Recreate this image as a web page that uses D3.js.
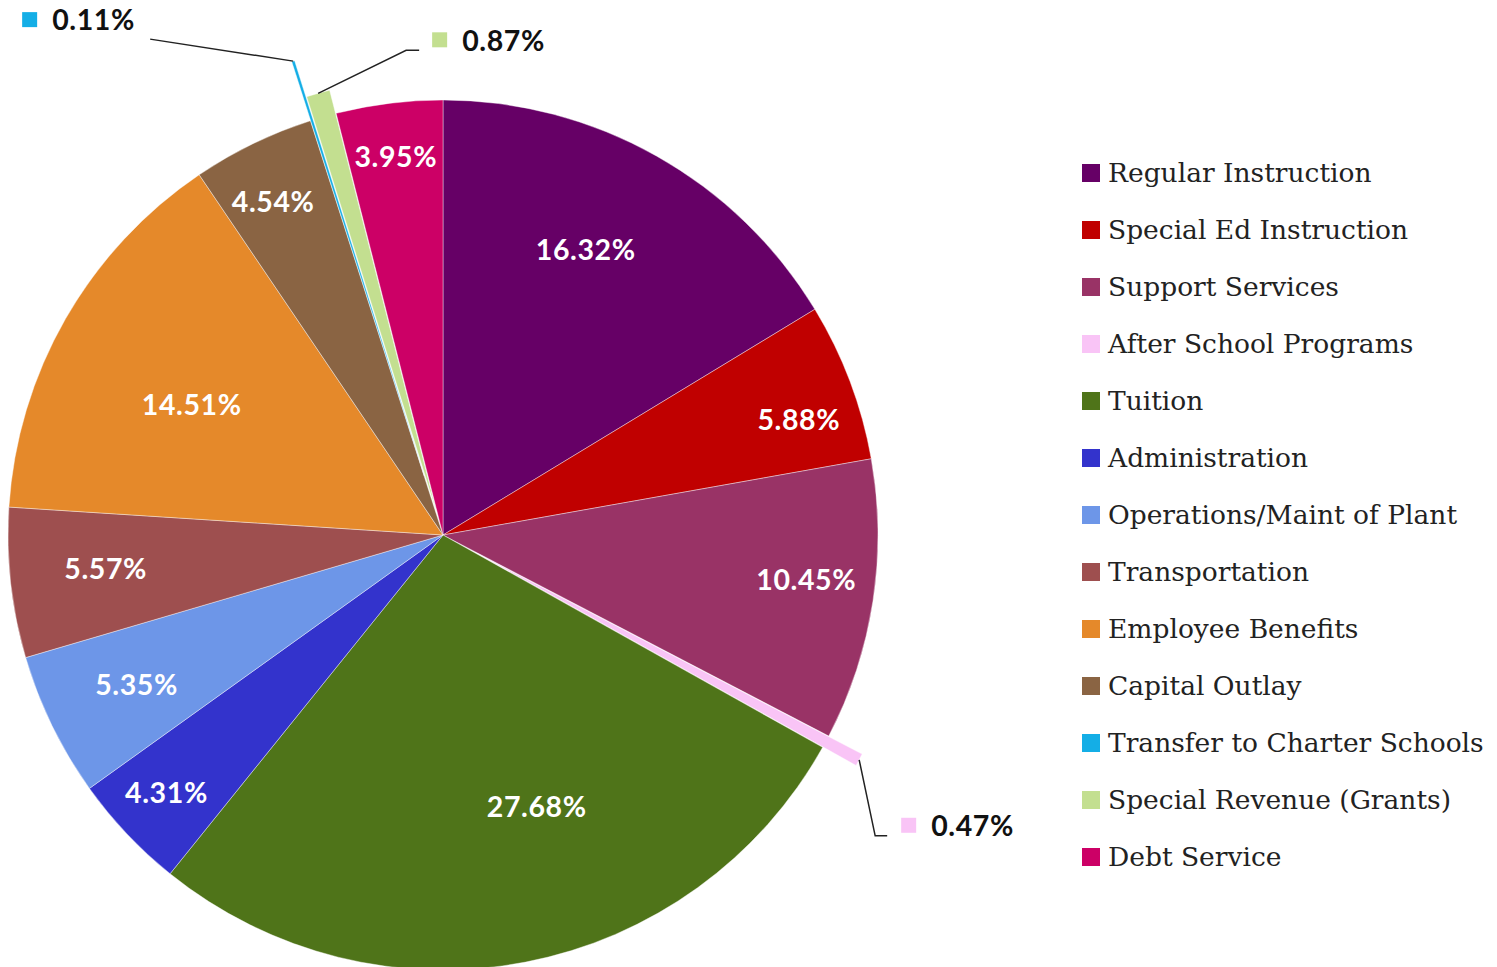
<!DOCTYPE html>
<html>
<head>
<meta charset="utf-8">
<script src="https://cdn.jsdelivr.net/npm/d3@7"></script>
<style>
  body { margin: 0; background: #fff; }
  .pct { font-family: Lato, "Open Sans", sans-serif; font-weight: bold; font-size: 28.5px; letter-spacing: 0.6px; }
  .legend text { font-family: "DejaVu Serif", serif; font-size: 26.5px; fill: #222; }
</style>
</head>
<body>
<svg width="1497" height="967"></svg>
<script>
const categories = ["Regular Instruction", "Special Ed Instruction", "Support Services",
  "After School Programs", "Tuition", "Administration", "Operations/Maint of Plant",
  "Transportation", "Employee Benefits", "Capital Outlay", "Transfer to Charter Schools",
  "Special Revenue (Grants)", "Debt Service"];
const values = [16.32, 5.88, 10.45, 0.47, 27.68, 4.31, 5.35, 5.57, 14.51, 4.54, 0.11, 0.87, 3.95];
const colors = ["#660066", "#c00000", "#993366", "#f9c4f6", "#4f7419", "#3333cc", "#6d96e8",
  "#9e4f4f", "#e5892a", "#8a6443", "#14aee6", "#c3df90", "#cc0066"];

const w = 1497, h = 967;
const cx = 443, cy = 535, radius = 435;

// slices pulled out of the pie (px)
const pulled = { "After School Programs": 38, "Transfer to Charter Schools": 62, "Special Revenue (Grants)": 24 };
// where the inside labels sit: [distance from centre, turn off the slice middle in degrees]
const labelAt = {
  "Regular Instruction": [319, -2.8], "Special Ed Instruction": [374, 2.7],
  "Support Services": [366, -1.7], "Tuition": [287, -8.1], "Administration": [378, 0.4],
  "Operations/Maint of Plant": [341, 0], "Transportation": [339, 0.7],
  "Employee Benefits": [283, -2.4], "Capital Outlay": [374, -1.1], "Debt Service": [381, 0]
};
// leader lines for the tiny slices, relative to the slice tip
const callouts = {
  "After School Programs":       { path: [[0, 0], [16, 76], [28, 76]], box: [42, 66] },
  "Transfer to Charter Schools": { path: [[0, 0], [-143, -22]], box: [-271, -41] },
  "Special Revenue (Grants)":    { path: [[0, 0], [88, -43], [101, -43]], box: [114, -53] }
};

const svg = d3.select("svg");
const color = d3.scaleOrdinal().domain(categories).range(colors);
const fmt = d => d3.format(".2f")(d) + "%";

const pie = d3.pie().sort(null).value(d => d.value);
const arcs = pie(categories.map((c, i) => ({ name: c, value: values[i] })));
const arc = d3.arc().innerRadius(0).outerRadius(radius);

const mid = d => (d.startAngle + d.endAngle) / 2;
const dir = (a, r) => [Math.sin(a) * r, -Math.cos(a) * r];

const g = svg.append("g").attr("transform", `translate(${[cx, cy]})`);

g.selectAll("path.slice")
  .data(arcs)
  .join("path").attr("class", "slice")
  .attr("d", arc)
  .attr("transform", d => `translate(${dir(mid(d), pulled[d.data.name] || 0)})`)
  .style("fill", d => color(d.data.name))
  .style("stroke", "#fff").style("stroke-width", 0.8).style("stroke-opacity", 0.5);

// labels inside the slices
g.selectAll("text.pct")
  .data(arcs.filter(d => labelAt[d.data.name]))
  .join("text").attr("class", "pct")
  .attr("transform", d => {
    const [r, turn] = labelAt[d.data.name];
    return `translate(${dir(mid(d) + turn * Math.PI / 180, r)})`;
  })
  .attr("text-anchor", "middle")
  .attr("dy", "0.36em")
  .style("fill", "#fff")
  .text(d => fmt(d.value));

// callouts for tiny slices
arcs.filter(d => callouts[d.data.name]).forEach(d => {
  const c = callouts[d.data.name];
  const tip = dir(mid(d), radius + (pulled[d.data.name] || 0));
  g.append("path")
    .attr("d", d3.line()(c.path.map(p => [tip[0] + p[0], tip[1] + p[1]])))
    .style("fill", "none").style("stroke", "#222").style("stroke-width", 1.5);
  const lab = g.append("g").attr("transform", `translate(${[tip[0] + c.box[0], tip[1] + c.box[1]]})`);
  lab.append("rect").attr("x", 0).attr("y", -8).attr("width", 15).attr("height", 15)
    .style("fill", color(d.data.name));
  lab.append("text").attr("class", "pct").attr("x", 30).attr("dy", "0.36em")
    .style("fill", "#111").text(fmt(d.value));
});

// legend
const legend = svg.append("g").attr("class", "legend")
  .attr("transform", `translate(${[1082, 173]})`);

legend.selectAll("g.item")
  .data(categories)
  .join("g").attr("class", "item")
  .each(function(d, i) {
    d3.select(this).append("rect")
      .attr("y", i * 57 - 9).attr("width", 18).attr("height", 18)
      .style("fill", color(d));
    d3.select(this).append("text")
      .attr("x", 26).attr("y", i * 57).attr("dy", "0.35em")
      .text(d);
  });
</script>
</body>
</html>
